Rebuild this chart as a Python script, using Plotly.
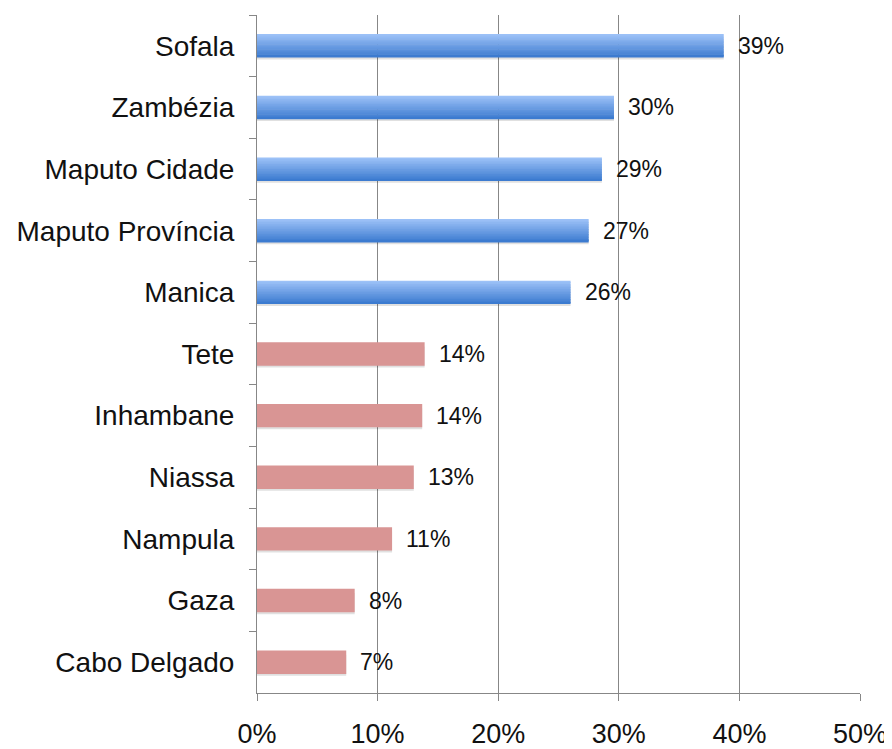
import plotly.graph_objects as go

# ---- data (top to bottom as shown) ----
regions = ["Sofala", "Zambézia", "Maputo Cidade", "Maputo Província", "Manica",
           "Tete", "Inhambane", "Niassa", "Nampula", "Gaza", "Cabo Delgado"]
values = [38.7, 29.6, 28.6, 27.5, 26.0, 13.9, 13.7, 13.0, 11.2, 8.1, 7.4]
labels = ["39%", "30%", "29%", "27%", "26%", "14%", "14%", "13%", "11%", "8%", "7%"]
group = ["high"] * 5 + ["low"] * 6
x_ticks = [0, 10, 20, 30, 40, 50]
x_ticktext = ["0%", "10%", "20%", "30%", "40%", "50%"]

FONT = "Liberation Sans, Arial, sans-serif"
BAR_W = 0.38
fig = go.Figure()

hi_y = [r for r, g in zip(regions, group) if g == "high"]
hi_x = [v for v, g in zip(values, group) if g == "high"]
lo_y = [r for r, g in zip(regions, group) if g == "low"]
lo_x = [v for v, g in zip(values, group) if g == "low"]

# subtle shadow below bars
for ys, xs in ((hi_y, hi_x), (lo_y, lo_x)):
    fig.add_trace(go.Bar(y=ys, x=xs, orientation="h", width=BAR_W * 0.9,
                         offset=-BAR_W / 2 + BAR_W * 0.18,
                         marker=dict(color="rgba(0,0,0,0.12)", line=dict(width=0)),
                         hoverinfo="skip", showlegend=False))

# blue bars with vertical gradient (light top, dark bottom)
top_c = (156, 193, 247)
bot_c = (60, 123, 208)
n = 14
sw = BAR_W / n
for i in range(n):
    t = i / (n - 1)
    c = tuple(round(top_c[k] + (bot_c[k] - top_c[k]) * t) for k in range(3))
    fig.add_trace(go.Bar(y=hi_y, x=hi_x, orientation="h",
                         width=sw * 1.35 if i < n - 1 else sw, offset=-BAR_W / 2 + i * sw,
                         marker=dict(color="rgb(%d,%d,%d)" % c, line=dict(width=0)),
                         showlegend=False))

# pink bars
fig.add_trace(go.Bar(y=lo_y, x=lo_x, orientation="h", width=BAR_W, offset=-BAR_W / 2,
                     marker=dict(color="#D99594", line=dict(width=0)),
                     showlegend=False))

annotations = [dict(x=v, y=r, text=l, xref="x", yref="y", xanchor="left",
                    yanchor="middle", xshift=12, showarrow=False,
                    font=dict(family=FONT, size=23, color="#111111"))
               for r, v, l in zip(regions, values, labels)]

fig.update_layout(
    width=884, height=741,
    margin=dict(l=249, r=32, t=7, b=56),
    paper_bgcolor="white", plot_bgcolor="white",
    barmode="overlay",
    annotations=annotations,
    font=dict(family=FONT, color="#111111"),
    xaxis=dict(range=[0, 50], tickvals=x_ticks, ticktext=x_ticktext,
               showgrid=True, gridcolor="#878787", gridwidth=1,
               showline=True, linecolor="#878787", linewidth=1,
               ticks="outside", ticklen=7, tickcolor="#878787",
               tickfont=dict(family=FONT, size=27, color="#111111"),
               ticklabelstandoff=10, zeroline=False, fixedrange=True,
               automargin=False),
    yaxis=dict(type="category", categoryorder="array", categoryarray=regions,
               autorange="reversed", showline=True, linecolor="#878787", linewidth=1,
               ticks="outside", ticklen=7, tickcolor="#878787", tickson="boundaries",
               tickfont=dict(family=FONT, size=28, color="#111111"),
               ticklabelstandoff=16, showgrid=False, fixedrange=True,
               automargin=False),
)

fig.write_html("out.html")
